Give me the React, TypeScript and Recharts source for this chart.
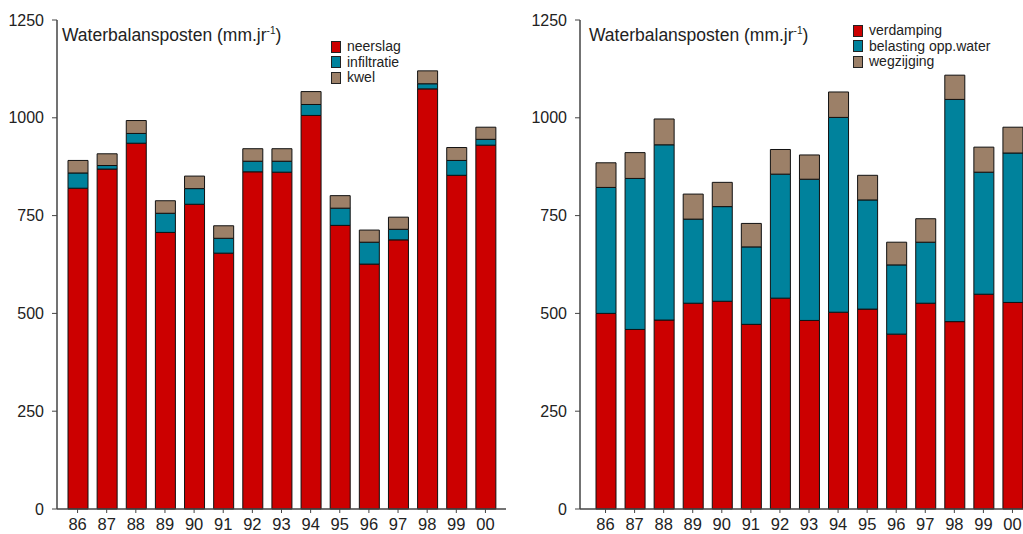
import { BarChart, Bar, XAxis, YAxis } from 'recharts'

const years = ['86', '87', '88', '89', '90', '91', '92', '93', '94', '95', '96', '97', '98', '99', '00']

// aanvoer
const neerslag = [820, 869, 935, 707, 779, 654, 862, 861, 1006, 725, 626, 688, 1074, 853, 930]
const infiltratie = [39, 9, 25, 49, 40, 38, 27, 28, 28, 44, 56, 27, 13, 38, 15]
const kwel = [32, 30, 33, 32, 32, 32, 32, 32, 33, 32, 31, 31, 33, 33, 31]

// afvoer
const verdamping = [500, 459, 483, 526, 531, 472, 539, 482, 503, 511, 447, 526, 479, 549, 528]
const belasting = [322, 386, 448, 215, 242, 198, 317, 361, 498, 279, 177, 156, 568, 312, 382]
const wegzijging = [63, 66, 66, 64, 62, 60, 63, 62, 65, 63, 58, 60, 62, 64, 66]

const yTicks = [0, 250, 500, 750, 1000, 1250]

const RED = '#CC0000'
const TEAL = '#00829C'
const BROWN = '#9C8068'
const AXIS = '#444'
const FONT = "Arial, 'Liberation Sans', sans-serif"

const aanvoer = years.map((y, i) => ({ year: y, a: neerslag[i], b: infiltratie[i], c: kwel[i] }))
const afvoer = years.map((y, i) => ({ year: y, a: verdamping[i], b: belasting[i], c: wegzijging[i] }))

interface PanelProps {
  data: { year: string; a: number; b: number; c: number }[]
  labels: string[]
  left: number
  marginLeft: number
  marginRight: number
  padL: number
  padR: number
  legendX: number
  legendY: number
  titleX: number
}

function Panel({ data, labels, left, marginLeft, marginRight, padL, padR, legendX, legendY, titleX }: PanelProps) {
  const colors = [RED, TEAL, BROWN]
  return (
    <div style={{ position: 'absolute', left, top: 0, width: 520, height: 534 }}>
      <BarChart
        width={520}
        height={534}
        data={data}
        margin={{ top: 20, right: marginRight, bottom: 0, left: marginLeft }}
        barSize={20}
      >
        <XAxis
          dataKey="year"
          padding={{ left: padL, right: padR }}
          tickLine={{ stroke: AXIS }}
          axisLine={{ stroke: AXIS, strokeWidth: 1.5 }}
          tickSize={4}
          tickMargin={5}
          height={25}
          interval={0}
          tick={{ fill: '#222', fontSize: 16.5, fontFamily: FONT }}
        />
        <XAxis xAxisId="top" dataKey="year" orientation="top" tick={false} tickLine={false} height={0} axisLine={{ stroke: AXIS, strokeWidth: 1.5 }} />
        <YAxis
          domain={[0, 1250]}
          ticks={yTicks}
          width={50}
          tickSize={5}
          tickMargin={8}
          tickLine={{ stroke: AXIS }}
          axisLine={{ stroke: AXIS, strokeWidth: 1.5 }}
          tick={{ fill: '#222', fontSize: 16, fontFamily: FONT }}
        />
        <YAxis yAxisId="right" orientation="right" domain={[0, 1250]} tick={false} tickLine={false} width={0} axisLine={{ stroke: AXIS, strokeWidth: 1.5 }} />
        <Bar dataKey="a" stackId="s" fill={colors[0]} stroke="#111" strokeWidth={1} isAnimationActive={false} />
        <Bar dataKey="b" stackId="s" fill={colors[1]} stroke="#111" strokeWidth={1} isAnimationActive={false} />
        <Bar dataKey="c" stackId="s" fill={colors[2]} stroke="#111" strokeWidth={1} isAnimationActive={false} />
      </BarChart>
      <div
        style={{
          position: 'absolute',
          left: titleX - left,
          top: 25,
          fontFamily: FONT,
          fontSize: 17.5,
          lineHeight: '20px',
          color: '#222',
          whiteSpace: 'nowrap',
        }}
      >
        Waterbalansposten (mm.jr<sup style={{ fontSize: 10, verticalAlign: 'top', lineHeight: '10px', position: 'relative', top: 1 }}>-1</sup>)
      </div>
      <div style={{ position: 'absolute', left: legendX - left, top: legendY, fontFamily: FONT, fontSize: 14, color: '#222' }}>
        {labels.map((l, i) => (
          <div key={l} style={{ display: 'flex', alignItems: 'flex-start', height: 15.5, lineHeight: '15.5px', whiteSpace: 'nowrap' }}>
            <span
              style={{
                display: 'inline-block',
                width: 8,
                height: 10,
                marginTop: 1.6,
                marginRight: 6,
                background: colors[i],
                border: '1px solid #222',
              }}
            />
            {l}
          </div>
        ))}
      </div>
    </div>
  )
}

export default function App() {
  return (
    <div style={{ position: 'absolute', left: 0, top: 0, width: 1023, height: 534, overflow: 'hidden', background: '#fff' }}>
      <Panel
        data={aanvoer}
        labels={['neerslag', 'infiltratie', 'kwel']}
        left={0}
        marginLeft={7}
        marginRight={14}
        padL={6}
        padR={6}
        legendX={331}
        legendY={39.4}
        titleX={62}
      />
      <Panel
        data={afvoer}
        labels={['verdamping', 'belasting opp.water', 'wegzijging']}
        left={520}
        marginLeft={10}
        marginRight={11}
        padL={11}
        padR={2}
        legendX={853}
        legendY={23.4}
        titleX={589}
      />
    </div>
  )
}
